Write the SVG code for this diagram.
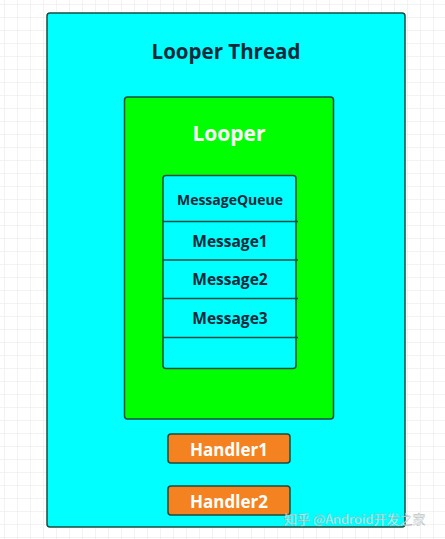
<svg xmlns="http://www.w3.org/2000/svg" width="445" height="539" viewBox="0 0 445 539">
<defs>
<pattern id="grid" width="13" height="13" patternUnits="userSpaceOnUse" x="4" y="4">
<path d="M13 0 L0 0 0 13" fill="none" stroke="#e8e8e8" stroke-width="1"/>
</pattern>
</defs>
<style>
.t{font-family:"Open Sans","Noto Sans","Liberation Sans",sans-serif;font-weight:bold;text-anchor:middle;dominant-baseline:central}
.box{stroke:#1a4d40;stroke-width:1.5}
.div{stroke:#1a4d40;stroke-width:1.3}
</style>
<rect width="445" height="539" fill="#ffffff"/>
<rect width="445" height="539" fill="url(#grid)"/>
<g id="thread">
<rect class="box" x="47" y="13" width="358" height="514" rx="3" fill="#00ffff"/>
<text class="t" x="226" y="51" font-size="20.5" fill="#0f2a3a">Looper Thread</text>
</g>
<g id="looper">
<rect class="box" x="124.5" y="97" width="209" height="322" rx="3" fill="#00ff00"/>
<text class="t" x="229" y="133" font-size="21" fill="#ffffff">Looper</text>
</g>
<g id="queue">
<rect class="box" x="163" y="175.5" width="133" height="193" rx="3" fill="#00ffff"/>
<text class="t" x="230" y="199" font-size="14" fill="#0f2a3a">MessageQueue</text>
<text class="t" x="230" y="241" font-size="15.5" fill="#0f2a3a">Message1</text>
<text class="t" x="230" y="279" font-size="15.5" fill="#0f2a3a">Message2</text>
<text class="t" x="230" y="318" font-size="15.5" fill="#0f2a3a">Message3</text>
</g>
<g id="connectors">
<line class="div" x1="163" y1="221.5" x2="298" y2="221.5"/>
<line class="div" x1="163" y1="260" x2="298" y2="260"/>
<line class="div" x1="163" y1="298.5" x2="298" y2="298.5"/>
<line class="div" x1="163" y1="337.5" x2="298" y2="337.5"/>
</g>
<g id="handler1">
<rect class="box" x="168" y="434" width="122" height="29" rx="3" fill="#f58220"/>
<text class="t" x="229" y="449" font-size="17" fill="#ffffff">Handler1</text>
</g>
<g id="handler2">
<rect class="box" x="168" y="486" width="122" height="29" rx="3" fill="#f58220"/>
<text class="t" x="229" y="501" font-size="17" fill="#ffffff">Handler2</text>
</g>
<text x="284" y="524" font-family="'Noto Sans CJK SC','Liberation Sans',sans-serif" font-size="13" fill="#ffffff" fill-opacity="0.75" stroke="#9aa" stroke-width="0.3">知乎 @Android开发之家</text>
</svg>
